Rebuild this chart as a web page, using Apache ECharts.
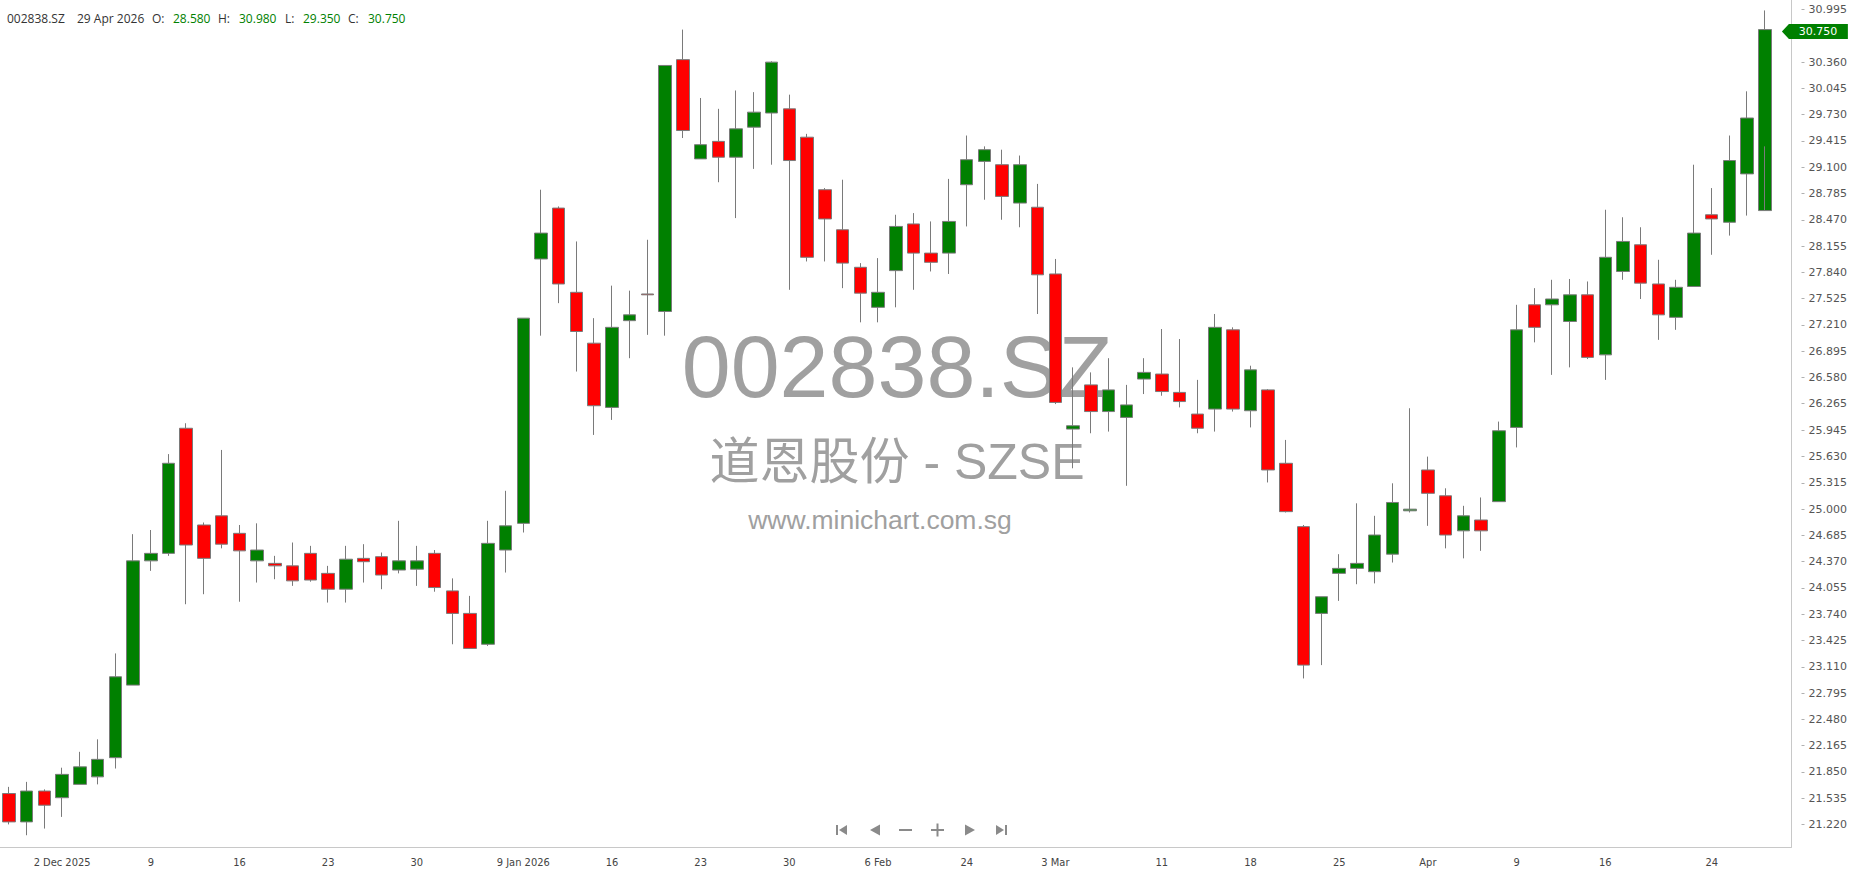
<!DOCTYPE html>
<html><head><meta charset="utf-8">
<script src="https://cdn.jsdelivr.net/npm/echarts@6/dist/echarts.min.js"></script>
<style>html,body{margin:0;padding:0;background:#fff;overflow:hidden}#c{width:1850px;height:874px}</style>
</head><body><div id="c"></div>
<script>
const symbolCode = '002838.SZ';
const companyLine = '道恩股份 - SZSE';
const siteLine = 'www.minichart.com.sg';

const dates = [
'2025-11-27','2025-11-28','2025-12-01','2025-12-02','2025-12-03','2025-12-04','2025-12-05','2025-12-08','2025-12-09','2025-12-10',
'2025-12-11','2025-12-12','2025-12-15','2025-12-16','2025-12-17','2025-12-18','2025-12-19','2025-12-22','2025-12-23','2025-12-24',
'2025-12-25','2025-12-26','2025-12-29','2025-12-30','2025-12-31','2026-01-05','2026-01-06','2026-01-07','2026-01-08','2026-01-09',
'2026-01-12','2026-01-13','2026-01-14','2026-01-15','2026-01-16','2026-01-19','2026-01-20','2026-01-21','2026-01-22','2026-01-23',
'2026-01-26','2026-01-27','2026-01-28','2026-01-29','2026-01-30','2026-02-02','2026-02-03','2026-02-04','2026-02-05','2026-02-06',
'2026-02-09','2026-02-10','2026-02-11','2026-02-12','2026-02-24','2026-02-25','2026-02-26','2026-02-27','2026-03-02','2026-03-03',
'2026-03-04','2026-03-05','2026-03-06','2026-03-09','2026-03-10','2026-03-11','2026-03-12','2026-03-13','2026-03-16','2026-03-17',
'2026-03-18','2026-03-19','2026-03-20','2026-03-23','2026-03-24','2026-03-25','2026-03-26','2026-03-27','2026-03-30','2026-03-31',
'2026-04-01','2026-04-02','2026-04-03','2026-04-07','2026-04-08','2026-04-09','2026-04-10','2026-04-13','2026-04-14','2026-04-15',
'2026-04-16','2026-04-17','2026-04-20','2026-04-21','2026-04-22','2026-04-23','2026-04-24','2026-04-27','2026-04-28','2026-04-29'
];
const opens = [
21.59,21.25,21.62,21.54,21.70,21.79,22.02,22.89,24.38,24.47,
25.97,24.81,24.92,24.71,24.38,24.35,24.32,24.47,24.23,24.04,
24.41,24.43,24.27,24.28,24.47,24.02,23.75,23.38,24.51,24.83,
28.00,28.61,27.60,26.99,26.22,27.26,27.58,27.37,30.39,29.20,
29.41,29.22,29.58,29.75,29.80,29.46,28.83,28.35,27.90,27.42,
27.86,28.42,28.07,28.07,28.89,29.17,29.13,28.67,28.62,27.82,
25.96,26.49,26.17,26.10,26.56,26.62,26.40,26.14,26.20,27.15,
26.18,26.43,25.55,24.79,23.75,24.23,24.29,24.25,24.46,24.98,
25.47,25.16,24.74,24.87,25.09,25.98,27.45,27.45,27.25,27.57,
26.85,27.85,28.17,27.70,27.30,27.67,28.53,28.44,29.02,28.58
];
const highs = [
21.67,21.73,21.64,21.90,22.09,22.24,23.27,24.70,24.75,25.66,
26.03,24.84,25.71,24.81,24.83,24.44,24.60,24.56,24.32,24.56,
24.58,24.48,24.86,24.56,24.51,24.17,23.96,24.86,25.22,27.29,
28.83,28.63,28.21,27.29,27.68,27.62,28.23,30.32,30.75,29.93,
29.80,30.02,30.00,30.37,29.97,29.50,28.85,28.95,27.95,28.01,
28.53,28.55,28.45,28.96,29.48,29.35,29.31,29.24,28.90,28.00,
26.70,26.64,26.81,26.49,26.81,27.16,27.04,26.55,27.34,27.18,
26.72,26.44,25.83,24.81,23.95,24.46,25.07,24.92,25.31,26.21,
25.63,25.25,25.04,25.14,26.05,27.45,27.65,27.75,27.76,27.73,
28.59,28.50,28.38,27.99,27.75,29.13,28.85,29.48,30.01,30.98
];
const lows = [
21.22,21.09,21.17,21.31,21.70,21.70,21.89,22.89,24.26,24.44,
23.86,23.98,24.53,23.89,24.12,24.16,24.08,24.13,23.88,23.88,
24.12,24.04,24.23,24.08,24.01,23.38,23.33,23.36,24.24,24.72,
27.08,27.47,26.65,25.89,26.07,26.81,27.09,27.08,29.45,29.20,
28.92,28.49,29.08,29.13,27.63,27.97,27.97,27.65,27.24,27.24,
27.42,27.63,27.85,27.82,28.39,28.71,28.47,28.38,27.34,26.26,
25.49,25.91,25.93,25.28,26.38,26.36,26.22,25.91,25.93,26.17,
25.98,25.32,24.96,22.97,23.13,23.90,24.10,24.11,24.36,24.96,
24.80,24.53,24.41,24.50,25.09,25.74,27.00,26.61,26.70,26.80,
26.55,27.75,27.52,27.03,27.15,27.67,28.05,28.28,28.52,29.35
];
const closes = [
21.25,21.62,21.45,21.82,21.91,22.00,22.99,24.38,24.47,25.55,
24.57,24.41,24.58,24.50,24.51,24.32,24.14,24.15,24.04,24.40,
24.37,24.21,24.38,24.38,24.06,23.75,23.33,24.59,24.80,27.29,
28.31,27.70,27.13,26.24,27.18,27.33,27.57,30.32,29.54,29.37,
29.22,29.56,29.76,30.36,29.18,28.02,28.48,27.95,27.59,27.60,
28.39,28.07,27.96,28.45,29.19,29.31,28.75,29.13,27.81,26.28,
26.00,26.17,26.43,26.25,26.64,26.41,26.29,25.97,27.18,26.20,
26.67,25.47,24.97,23.13,23.95,24.29,24.35,24.69,25.08,25.00,
25.19,24.69,24.92,24.74,25.94,27.15,27.18,27.52,27.57,26.82,
28.02,28.21,27.71,27.33,27.66,28.31,28.48,29.18,29.69,30.75
];
const xTickLabels = {
'2025-12-02':'2 Dec 2025','2025-12-09':'9','2025-12-16':'16','2025-12-23':'23','2025-12-30':'30',
'2026-01-09':'9 Jan 2026','2026-01-16':'16','2026-01-23':'23','2026-01-30':'30','2026-02-06':'6 Feb',
'2026-02-24':'24','2026-03-03':'3 Mar','2026-03-11':'11','2026-03-18':'18','2026-03-25':'25',
'2026-04-01':'Apr','2026-04-09':'9','2026-04-16':'16','2026-04-24':'24'
};
const yTickLabels = ['21.220','21.535','21.850','22.165','22.480','22.795','23.110','23.425','23.740','24.055',
'24.370','24.685','25.000','25.315','25.630','25.945','26.265','26.580','26.895','27.210','27.525','27.840',
'28.155','28.470','28.785','29.100','29.415','29.730','30.045','30.360','30.675','30.995'];

const categories = dates.concat(['']);
const ohlc = dates.map((d, i) => [opens[i], closes[i], lows[i], highs[i]]);
const last = dates.length - 1;
const months = ['Jan','Feb','Mar','Apr','May','Jun','Jul','Aug','Sep','Oct','Nov','Dec'];
const lp = dates[last].split('-');
const lastDateText = (+lp[2]) + ' ' + months[+lp[1] - 1] + ' ' + lp[0];
const fmt = v => v.toFixed(3);
const upColor = '#008000', downColor = '#ff0000';
const lastColor = closes[last] >= opens[last] ? upColor : downColor;

const YMIN = 20.949, YMAX = 31.105;
const chart = echarts.init(document.getElementById('c'), null, {renderer: 'svg'});
const hdrFont = '12px "Open Sans", "Noto Sans", sans-serif';
const hdr = [
  {t: symbolCode, x: 7, c: '#333'},
  {t: lastDateText, x: 77, c: '#333'},
  {t: 'O:', x: 152, c: '#333'}, {t: fmt(opens[last]), x: 173, c: lastColor},
  {t: 'H:', x: 218, c: '#333'}, {t: fmt(highs[last]), x: 239, c: lastColor},
  {t: 'L:', x: 285, c: '#333'}, {t: fmt(lows[last]), x: 303, c: lastColor},
  {t: 'C:', x: 348, c: '#333'}, {t: fmt(closes[last]), x: 368, c: lastColor}
];
const navFill = '#8a8a8a';
const graphics = [
  {type: 'text', z: 0, style: {text: symbolCode, x: 897, y: 366, textAlign: 'center', verticalAlign: 'middle', font: '88px "Liberation Sans", Arial, sans-serif', fill: '#a0a0a0'}},
  {type: 'text', z: 0, style: {text: companyLine, x: 897, y: 462, textAlign: 'center', verticalAlign: 'middle', font: '50px "Liberation Sans", "Noto Sans CJK SC", sans-serif', fill: '#a0a0a0'}},
  {type: 'text', z: 0, style: {text: siteLine, x: 880, y: 520, textAlign: 'center', verticalAlign: 'middle', font: '26.5px "Liberation Sans", Arial, sans-serif', fill: '#a0a0a0'}},
  {type: 'rect', shape: {x: 836, y: 825, width: 2, height: 10}, style: {fill: navFill}},
  {type: 'polygon', shape: {points: [[847, 825], [847, 835], [839, 830]]}, style: {fill: navFill}},
  {type: 'polygon', shape: {points: [[880, 824.5], [880, 835.5], [870, 830]]}, style: {fill: navFill}},
  {type: 'rect', shape: {x: 899, y: 829, width: 13, height: 2}, style: {fill: navFill}},
  {type: 'rect', shape: {x: 931, y: 829, width: 13, height: 2}, style: {fill: navFill}},
  {type: 'rect', shape: {x: 936.5, y: 823.5, width: 2, height: 13}, style: {fill: navFill}},
  {type: 'polygon', shape: {points: [[965, 824.5], [965, 835.5], [975, 830]]}, style: {fill: navFill}},
  {type: 'polygon', shape: {points: [[996, 825], [996, 835], [1004, 830]]}, style: {fill: navFill}},
  {type: 'rect', shape: {x: 1005, y: 825, width: 2, height: 10}, style: {fill: navFill}}
].concat(hdr.map(h => ({type: 'text', z: 10, style: {text: h.t, x: h.x, y: 18, verticalAlign: 'middle', font: hdrFont, fill: h.c}})));

chart.setOption({
  animation: false,
  backgroundColor: '#ffffff',
  grid: {left: 0, right: 58, top: 0, bottom: 27, containLabel: false},
  xAxis: {
    type: 'category', data: categories, boundaryGap: true,
    axisLine: {lineStyle: {color: '#c8c8c8', width: 1}},
    axisTick: {alignWithLabel: true, length: 5, lineStyle: {color: '#c0c0c0'}, interval: (i, v) => !!xTickLabels[v]},
    axisLabel: {interval: (i, v) => !!xTickLabels[v], formatter: v => xTickLabels[v] || '', color: '#444', fontSize: 11, margin: 10,
      fontFamily: '"Liberation Sans Narrow", "DejaVu Sans Condensed", "Liberation Sans", sans-serif'},
    splitLine: {show: false}
  },
  yAxis: [
    {type: 'value', position: 'right', min: YMIN, max: YMAX, axisLine: {show: true, lineStyle: {color: '#c8c8c8'}},
      axisTick: {show: false}, axisLabel: {show: false}, splitLine: {show: false}},
    {type: 'value', position: 'right', offset: 10, min: YMIN, max: YMAX, axisLine: {show: false},
      axisTick: {show: true, length: 3, customValues: yTickLabels.map(Number), lineStyle: {color: '#b0b0b0'}},
      axisLabel: {customValues: yTickLabels.map(Number), formatter: fmt, color: '#555', fontSize: 11, margin: 7, fontFamily: '"DejaVu Sans", sans-serif'},
      splitLine: {show: false}}
  ],
  graphic: graphics,
  series: [{
    type: 'candlestick', z: 5, barWidth: 13, data: ohlc,
    itemStyle: {color: upColor, color0: downColor, borderColor: '#7a7a7a', borderColor0: '#7a7a7a', borderWidth: 1},
    markPoint: {
      silent: true, animation: false,
      symbol: 'path://M0,7 L7,0 L66,0 L66,14 L7,14 Z', symbolSize: [66, 15], symbolKeepAspect: false,
      symbolOffset: [50, 2],
      itemStyle: {color: lastColor},
      label: {show: true, position: 'inside', offset: [3, 0], color: '#fff', fontSize: 11, fontFamily: '"DejaVu Sans", sans-serif', formatter: () => fmt(closes[last])},
      data: [{coord: [last, closes[last]], value: closes[last]}]
    }
  }]
});
</script></body></html>
